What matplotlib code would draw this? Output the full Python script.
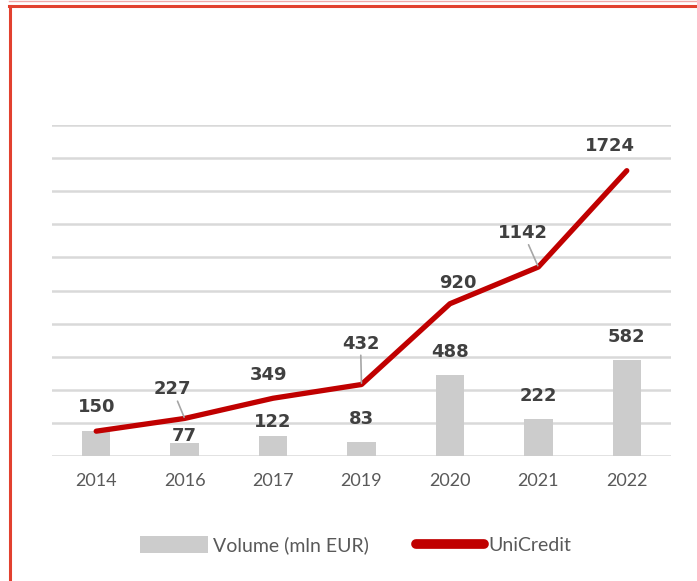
import matplotlib.pyplot as plt
from matplotlib.lines import Line2D
from matplotlib.patches import Patch

plt.rcParams['font.family'] = ['Lato', 'DejaVu Sans']

# ---- data ----
years = ['2014', '2016', '2017', '2019', '2020', '2021', '2022']
volume = [150, 77, 122, 83, 488, 222, 582]          # bars (mln EUR)
unicredit = [150, 227, 349, 432, 920, 1142, 1724]   # red line

# label offsets in pixels (dx, dy), as placed in the original
line_offsets = [(0, 24), (-12, 29), (-5, 23), (-1, 41), (8, 21), (-15, 34), (-17, 25)]
line_leader = [False, True, False, True, False, True, False]
bar_offsets = [None, (0, 7), (0, 14), (0, 23), (0, 23), (0, 23), (0, 23)]

RED = '#C00000'
BAR = '#CCCCCC'
GRID = '#D9D9D9'
LABEL = '#404040'
TICK = '#595959'
FRAME = '#E2412F'

W, H = 697, 581
fig = plt.figure(figsize=(W / 100, H / 100), dpi=100)
ax = fig.add_axes([52 / W, 1 - 456 / H, (671 - 52) / W, (456 - 125) / H])

x = list(range(len(years)))
ax.bar(x, volume, width=0.32, color=BAR, zorder=2)
ax.plot(x, unicredit, color=RED, lw=3.8, solid_capstyle='round',
        solid_joinstyle='round', zorder=3)

ax.set_xlim(-0.5, len(years) - 0.5)
ax.set_ylim(0, 2000)
ax.set_yticks(range(0, 2001, 200))
ax.yaxis.grid(True, color=GRID, lw=1.8, zorder=0)
ax.set_axisbelow(True)
ax.set_yticklabels([])
ax.tick_params(axis='y', length=0)
ax.set_xticks(x)
ax.set_xticklabels(years, fontsize=13, color=TICK)
ax.tick_params(axis='x', length=0, pad=12)
for s in ax.spines.values():
    s.set_visible(False)

lbl = dict(fontsize=13, fontweight='bold', color=LABEL, ha='center',
           va='center', textcoords='offset pixels', annotation_clip=False,
           family='DejaVu Sans', zorder=5)

for i, v in enumerate(unicredit):
    dx, dy = line_offsets[i]
    extra = {}
    if line_leader[i]:
        extra['arrowprops'] = dict(arrowstyle='-', color='#A6A6A6', lw=1.2,
                                   shrinkA=0, shrinkB=1)
    ax.annotate(str(v), (i, v), xytext=(dx, dy), **lbl, **extra)

for i, v in enumerate(volume):
    if bar_offsets[i] is None:
        continue
    dx, dy = bar_offsets[i]
    ax.annotate(str(v), (i, v), xytext=(dx, dy), **lbl)

handles = [Patch(facecolor=BAR, edgecolor='none'),
           Line2D([], [], color=RED, lw=7, solid_capstyle='round')]
fig.legend(handles, ['Volume (mln EUR)', 'UniCredit'], loc='center',
           bbox_to_anchor=(356 / W, 1 - 545 / H), ncol=2, frameon=False,
           fontsize=14, labelcolor=TICK, handlelength=3.5, handleheight=1.0,
           handletextpad=0.25, columnspacing=2.4)

# red frame on the left and top
fig.add_artist(Line2D([9.5 / W, 9.5 / W], [0, 1 - 5.5 / H], color=FRAME,
                      lw=2.2, transform=fig.transFigure))
fig.add_artist(Line2D([8.5 / W, 1], [1 - 5.5 / H, 1 - 5.5 / H], color=FRAME,
                      lw=2.2, transform=fig.transFigure))
fig.add_artist(Line2D([8.5 / W, 1], [1 - 0.5 / H, 1 - 0.5 / H], color='#F0A8A8',
                      lw=1.0, transform=fig.transFigure))

fig.savefig('out.png', dpi=100)
